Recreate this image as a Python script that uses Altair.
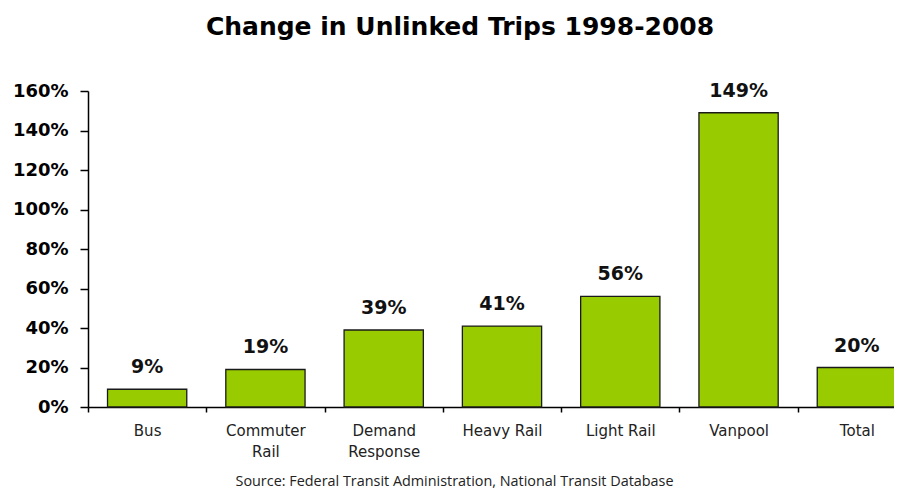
import altair as alt
import pandas as pd

categories = ["Bus", "Commuter Rail", "Demand Response", "Heavy Rail", "Light Rail", "Vanpool", "Total"]
changes = [0.09, 0.19, 0.39, 0.41, 0.56, 1.49, 0.20]
value_labels = ["9%", "19%", "39%", "41%", "56%", "149%", "20%"]
y_ticks = [0, 0.2, 0.4, 0.6, 0.8, 1.0, 1.2, 1.4, 1.6]

df = pd.DataFrame({"cat": categories, "chg": changes, "lab": value_labels})

title_text = "Change in Unlinked Trips 1998-2008"
source_text = "Source: Federal Transit Administration, National Transit Database"

x = alt.X(
    "cat:N",
    sort=categories,
    scale=alt.Scale(range=[0, 828], paddingInner=0, paddingOuter=0),
    axis=alt.Axis(
        title=source_text,
        titleFont="Open Sans",
        titleFontWeight="normal",
        titleFontSize=14.4,
        titleColor="#222222",
        titleX=366,
        titleY=78,
        titleBaseline="alphabetic",
        titleAnchor="middle",
        titleAlign="center",
        labelAngle=0,
        labelFont="DejaVu Sans",
        labelFontSize=15,
        labelColor="#222222",
        labelPadding=11,
        labelLineHeight=21,
        labelExpr="datum.value == 'Commuter Rail' || datum.value == 'Demand Response' ? split(datum.value, ' ') : datum.value",
        tickBand="extent",
        tickSize=5,
        tickColor="black",
        tickWidth=1.5,
        domainColor="black",
        domainWidth=1.5,
        grid=False,
    ),
)

y = alt.Y(
    "chg:Q",
    scale=alt.Scale(domain=[0, 1.6], nice=False),
    axis=alt.Axis(
        title=None,
        values=y_ticks,
        format=".0%",
        grid=False,
        labelFont="DejaVu Sans",
        labelFontWeight="bold",
        labelFontSize=18,
        labelColor="black",
        labelPadding=12,
        tickSize=8,
        tickColor="black",
        tickWidth=1.5,
        domainColor="black",
        domainWidth=1.5,
    ),
)

bars = alt.Chart(df).mark_bar(
    color="#99CC00", stroke="#1a1a1a", strokeWidth=1.3,
    width=alt.RelativeBandSize(0.67),
).encode(x=x, y=y)

labels = alt.Chart(df).mark_text(
    font="DejaVu Sans", fontWeight="bold", fontSize=19, color="#111111",
    baseline="alphabetic", dy=-16,
).encode(x=x, y=y, text="lab:N")

chart = (
    alt.layer(bars, labels)
    .properties(
        width=806,
        height=316,
        background="white",
        autosize=alt.AutoSizeParams(type="none"),
        padding={"left": 80, "top": 83, "right": 0, "bottom": 81},
        title=alt.TitleParams(
            title_text,
            font="DejaVu Sans",
            fontWeight="bold",
            fontSize=25,
            color="black",
            anchor="middle",
            baseline="alphabetic",
            offset=22,
            dx=-31,
        ),
    )
    .configure_view(stroke="transparent", strokeWidth=0)
)

chart.save("out.html", embed_options={"renderer": "svg", "actions": False})
